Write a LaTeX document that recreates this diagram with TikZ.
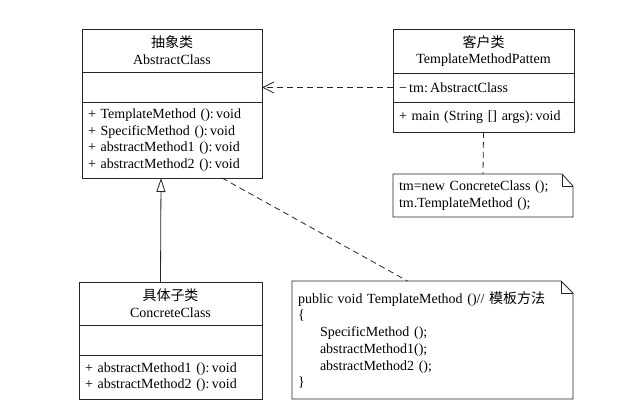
\documentclass[tikz,border=0pt]{standalone}
\usepackage{fontspec}
\setmainfont{Liberation Serif}
\newfontfamily\cjk{Noto Sans CJK SC}
\usetikzlibrary{positioning}
\usetikzlibrary{calc}
\usetikzlibrary{arrows.meta}

\tikzset{
    classpart/.style={draw=black!85, line width=0.8pt, anchor=north west, inner sep=0pt, outer sep=0pt, align=center, font=\fontsize{14}{16.7}\selectfont},
    members/.style={classpart, align=left, inner xsep=6pt},
    notetext/.style={anchor=north west, inner sep=0pt, inner xsep=6pt, outer sep=0pt, align=left, font=\fontsize{14}{16.7}\selectfont},
    noteline/.style={draw=black!85, line width=0.8pt, line join=miter},
    dashline/.style={draw=black!85, line width=0.8pt, dash pattern=on 6pt off 4pt},
}

\begin{document}
\begin{tikzpicture}[x=1pt,y=-1pt]
            \useasboundingbox (0,0) rectangle (633,411);

            % AbstractClass
            \node [classpart, minimum width=180pt, minimum height=43pt] (absName) at (82,29) {{\cjk 抽象类}\\AbstractClass};
            \node [classpart, minimum width=180pt, minimum height=30pt, below=0pt of absName] (absAttr) {};
            \node [members, text width=168pt, minimum height=76pt, below=0pt of absAttr] (absOps) {+ TemplateMethod ():\,void\\+ SpecificMethod ():\,void\\+ abstractMethod1 ():\,void\\+ abstractMethod2 ():\,void};

            % Client
            \node [classpart, minimum width=181pt, minimum height=44pt] (cliName) at (393,29) {{\cjk 客户类}\\TemplateMethodPattem};
            \node [members, text width=169pt, minimum height=29pt, below=0pt of cliName] (cliAttr) {−\,tm:\,AbstractClass};
            \node [members, text width=169pt, minimum height=30pt, below=0pt of cliAttr] (cliOps) {+ main (String [] args):\,void};

            % ConcreteClass
            \node [classpart, minimum width=183pt, minimum height=43pt] (conName) at (79,282) {{\cjk 具体子类}\\ConcreteClass};
            \node [classpart, minimum width=183pt, minimum height=30pt, below=0pt of conName] (conAttr) {};
            \node [members, text width=171pt, minimum height=44pt, below=0pt of conAttr] (conOps) {+ abstractMethod1 ():\,void\\+ abstractMethod2 ():\,void};

            % Notes
            \node [notetext, text width=168pt, minimum height=43pt] (note1) at (393,174) {tm=new ConcreteClass ();\\tm.TemplateMethod ();};
            \node [notetext, text width=269pt, minimum height=118pt] (note2) at (292,281) {public void TemplateMethod ()// {\cjk 模板方法}\\\{\\\hspace*{22pt}SpecificMethod ();\\\hspace*{22pt}abstractMethod1();\\\hspace*{22pt}abstractMethod2 ();\\\}};

            \draw [noteline] (note1.north west) -- ([xshift=-11pt]note1.north east) -- ([yshift=-12pt]note1.north east) -- (note1.south east) -- (note1.south west) -- cycle;
            \draw [noteline] ([xshift=-11pt]note1.north east) |- ([yshift=-12pt]note1.north east);
            \draw [noteline] (note2.north west) -- ([xshift=-12pt]note2.north east) -- ([yshift=-12pt]note2.north east) -- (note2.south east) -- (note2.south west) -- cycle;
            \draw [noteline] ([xshift=-12pt]note2.north east) |- ([yshift=-12pt]note2.north east);

            % Connectors
            \draw [dashline, -{Straight Barb[length=11pt,width=11pt]}] (cliAttr.west) -- (cliAttr.west -| absAttr.east);
            \draw [dashline] (cliOps.south) -- (note1.north);
            \draw [draw=black!85, line width=0.8pt, -{Triangle[open,length=14pt,width=9pt]}] ([xshift=-10pt]conName.north) -- ([xshift=-11pt]absOps.south);
            \draw [dashline] ([xshift=50pt]absOps.south) -- ([xshift=-25pt]note2.north);
        \end{tikzpicture}
\end{document}
